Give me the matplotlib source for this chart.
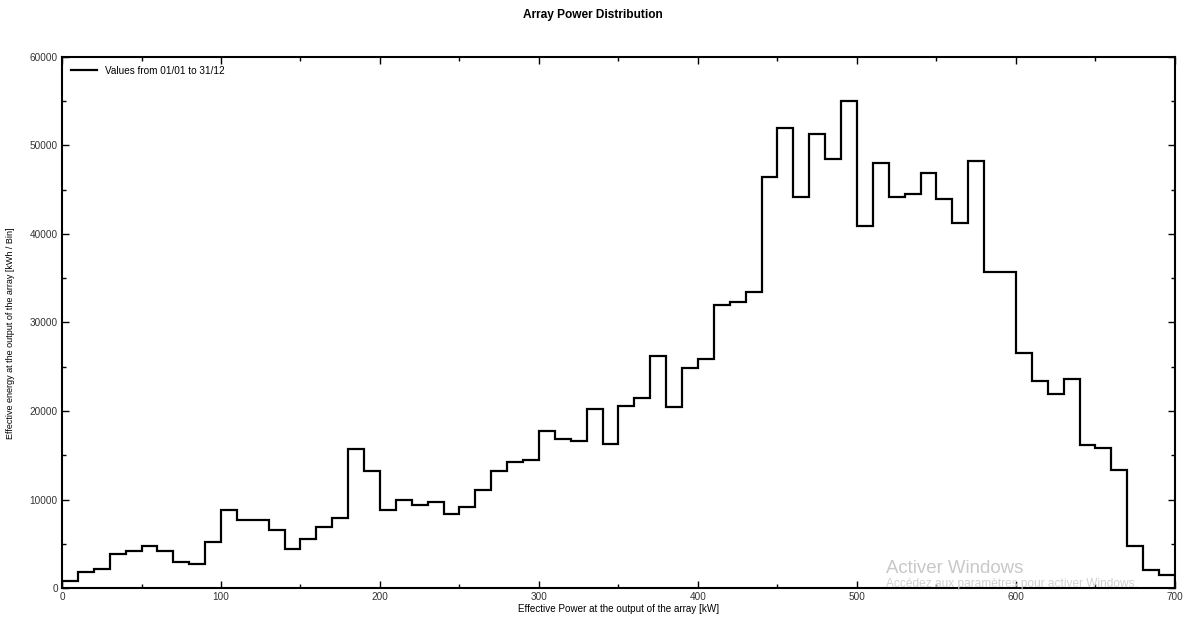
import numpy as np
import matplotlib
matplotlib.use('Agg')
import matplotlib.pyplot as plt
from matplotlib.ticker import MultipleLocator

# bins of 10 kW, from 0 to 700 kW
bin_edges = np.arange(0, 710, 10)
# energy per bin [kWh / Bin]
energy = [800, 1800, 2200, 3800, 4200, 4700, 4200, 2900, 2700, 5200,
          8800, 7700, 7700, 6600, 4400, 5500, 6900, 7900, 15700, 13200,
          8800, 10000, 9400, 9700, 8400, 9200, 11100, 13200, 14200, 14500,
          17700, 16800, 16600, 20200, 16300, 20600, 21500, 26200, 20400, 24900,
          25900, 32000, 32300, 33500, 46400, 52000, 44200, 51300, 48500, 55000,
          40900, 48000, 44200, 44500, 46900, 43900, 41200, 48200, 35700, 35700,
          26600, 23400, 21900, 23600, 16200, 15800, 13300, 4700, 2000, 1500]

plt.rcParams['font.family'] = ['Liberation Sans', 'DejaVu Sans']

fig = plt.figure(figsize=(11.97, 6.19), dpi=100)
ax = fig.add_axes([0.0518, 0.050, 0.9298, 0.858])

ax.stairs(energy, bin_edges, color='black', lw=1.6, label='Values from 01/01 to 31/12')

ax.set_xlim(0, 700)
ax.set_ylim(0, 60000)
ax.xaxis.set_major_locator(MultipleLocator(100))
ax.xaxis.set_minor_locator(MultipleLocator(50))
ax.yaxis.set_major_locator(MultipleLocator(10000))
ax.yaxis.set_minor_locator(MultipleLocator(5000))
ax.tick_params(which='both', direction='in', top=True, right=True, labelsize=7.2,
               labelcolor='#333333', width=1)
ax.tick_params(which='major', length=5, pad=3)
ax.tick_params(which='minor', length=3)
for sp in ax.spines.values():
    sp.set_linewidth(1.5)

ax.set_xlabel('Effective Power at the output of the array [kW]', fontsize=7.1, labelpad=1)
ax.set_ylabel('Effective energy at the output of the array [kWh / Bin]', fontsize=6.5)
ax.yaxis.set_label_coords(-0.042, 0.48)

fig.suptitle('Array Power Distribution', fontsize=8.6, fontweight='bold', x=0.495, y=0.985)

ax.legend(loc='upper left', frameon=False, fontsize=7.2, handlelength=2.6,
          borderaxespad=0.5, handletextpad=0.8)

# watermark from the screenshot
fig.text(0.74, 0.075, 'Activer Windows', fontsize=13.4, color='#c8c8c8')
fig.text(0.74, 0.051, 'Accédez aux paramètres pour activer Windows.', fontsize=8.6, color='#d0d0d0')

fig.savefig('out.png', dpi=100)
